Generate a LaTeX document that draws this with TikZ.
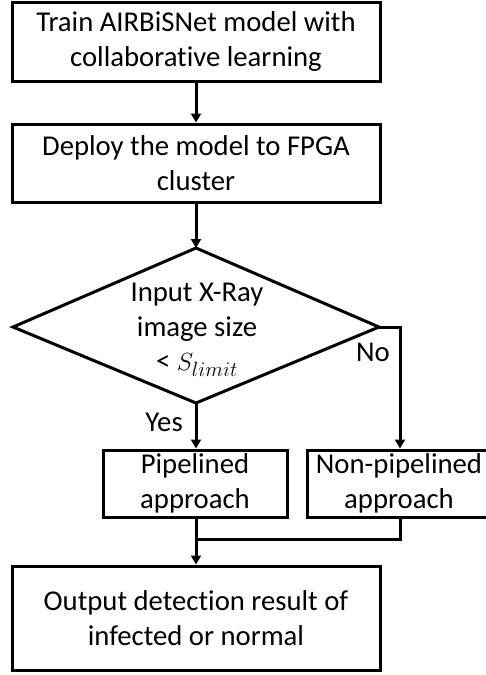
\documentclass[tikz,border=0pt]{standalone}
\usepackage{fontspec}
\setmainfont{Carlito}[Ligatures={NoCommon,NoRare,NoDiscretionary}]
\usetikzlibrary{arrows.meta}
\begin{document}
\begin{tikzpicture}[x=1pt,y=-1pt,
  every node/.style={font=\fontsize{28.7}{34.5}\selectfont, align=center, inner sep=0pt},
  procbox/.style={draw, line width=3pt},
  flow/.style={line width=3pt, -{Triangle[length=9pt,width=10pt]}},
  plainline/.style={line width=3pt}]
\useasboundingbox (0,0) rectangle (486,675);

% process boxes
\node[procbox, minimum width=368pt, minimum height=79pt] (train) at (196,41.5)
  {Train AIRBiSNet model with\\collaborative learning};
\node[procbox, minimum width=368pt, minimum height=78pt] (deploy) at (196,163)
  {Deploy the model to FPGA\\cluster};

% decision diamond
\coordinate (dtop) at (196,248);
\coordinate (dright) at (379,327);
\coordinate (dbottom) at (196,403);
\coordinate (dleft) at (13,327);
\draw[line width=3pt, line join=miter] (dtop) -- (dright) -- (dbottom) -- (dleft) -- cycle;
\node (decide) at (197,330) {Input X-Ray\\image size\\< $S_{limit}$};

\node[procbox, minimum width=184pt, minimum height=67pt] (pipe) at (195,483.5)
  {Pipelined\\approach};
\node[procbox, minimum width=184pt, minimum height=67pt] (nonpipe) at (399,483.5)
  {Non-pipelined\\approach};

\node[procbox, minimum width=368pt, minimum height=104pt] (output) at (196,618)
  {Output detection result of\\infected or normal};

% connectors
\draw[flow] (train.south) -- (deploy.north);
\draw[flow] (deploy.south) -- (dtop);
\draw[flow] (dbottom) -- (dbottom |- pipe.north);
\coordinate (nocorner) at (400,327);
\draw[flow] (dright) -- (nocorner) -- (nocorner |- nonpipe.north);
\coordinate (merge) at (196,539);
\draw[plainline] (pipe.south -| merge) -- (merge);
\draw[plainline] (nocorner |- nonpipe.south) |- (merge);
\draw[flow] (merge) -- (output.north);

% branch labels
\node (yes) at (164,422) {Yes};
\node (no) at (373,352) {No};
\end{tikzpicture}
\end{document}
